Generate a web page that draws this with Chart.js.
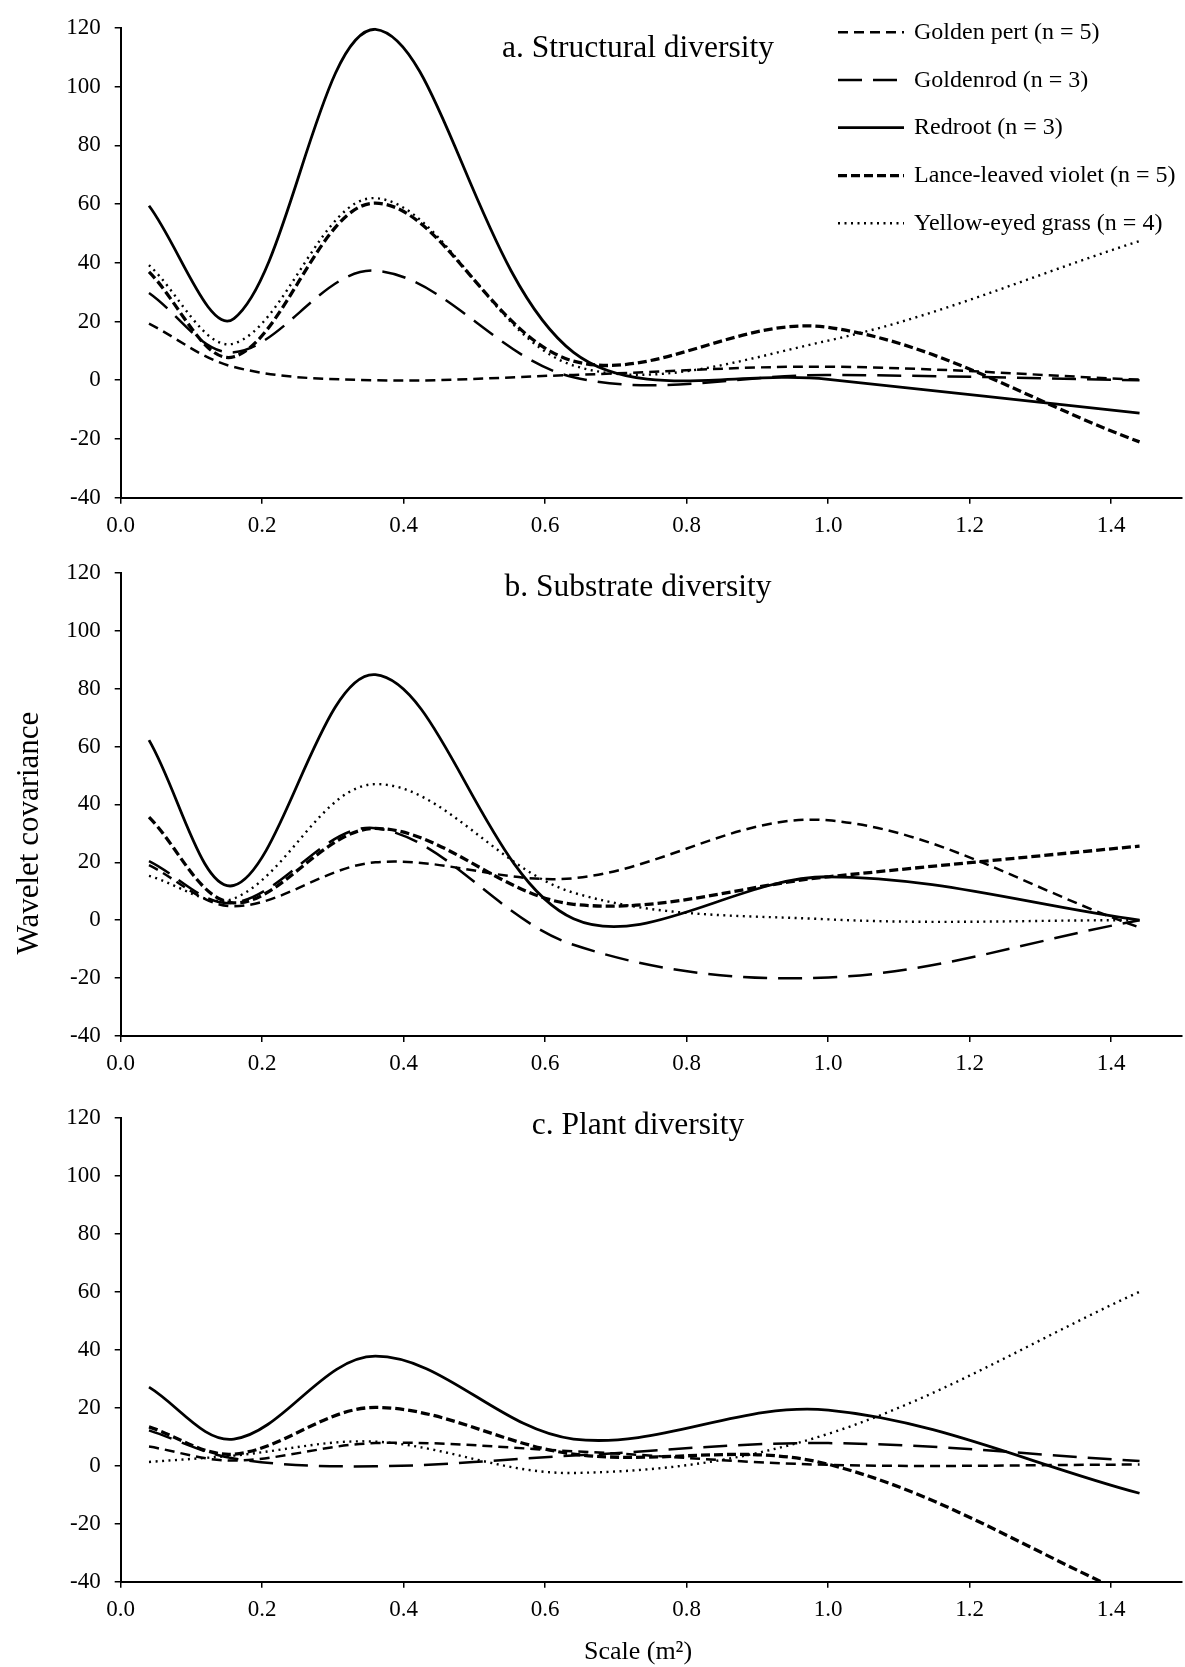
<!DOCTYPE html>
<html>
<head>
<meta charset="utf-8">
<title>Wavelet covariance</title>
<script src="https://cdn.jsdelivr.net/npm/chart.js@4.4.0/dist/chart.umd.min.js"></script>
<style>
  body { margin: 0; background: #fff; }
  .panel { position: absolute; left: 0; width: 1185px; }
</style>
</head>
<body>
<div class="panel" style="top:0;height:545px"><canvas id="panel-a"></canvas></div>
<div class="panel" style="top:545px;height:545px"><canvas id="panel-b"></canvas></div>
<div class="panel" style="top:1090px;height:577px"><canvas id="panel-c"></canvas></div>
<script>
// scale of each wavelet (m2)
const scaleValues = [0.04, 0.16, 0.36, 0.64, 1.0, 1.44];
const speciesLabels = ['Golden pert (n = 5)', 'Goldenrod (n = 3)', 'Redroot (n = 3)',
  'Lance-leaved violet (n = 5)', 'Yellow-eyed grass (n = 4)'];

// a. Structural diversity
const structGoldenPert = [19.3, 4.5, 0, 1.8, 4.6, 0.2];
const structGoldenrod  = [29.7, 9.5, 37.3, 1.0, 1.8, 0.0];
const structRedroot    = [59.4, 21, 119.5, 9.5, 0.3, -11.2];
const structLance      = [36.9, 8, 60.3, 6.5, 18, -21];
const structYellow     = [39.2, 12.5, 62, 5, 13.5, 47.4];

// b. Substrate diversity
const substrGoldenPert = [19, 4.8, 20, 14.5, 34.5, -2.5];
const substrGoldenrod  = [20.4, 6, 31.8, -8.5, -19.8, 0];
const substrRedroot    = [62.2, 12, 84.8, 0.5, 15, 0];
const substrLance      = [35.6, 6, 31.7, 5.5, 15, 25.6];
const substrYellow     = [15.3, 7.5, 47, 9.5, 0.3, 0];

// c. Plant diversity
const plantGoldenPert = [6.6, 1.8, 7.8, 5, 0.3, 0.4];
const plantGoldenrod  = [12.2, 2.5, -0.2, 3.5, 7.8, 1.6];
const plantRedroot    = [27.1, 9.2, 37.8, 9.2, 19.2, -9.5];
const plantLance      = [13.4, 4, 20.1, 4, 0.5, -46];
const plantYellow     = [1.3, 3.5, 8.3, -2.5, 11, 60];

// line looks, same order as speciesLabels
const lineDashes = [[10, 6], [24, 11], [], [9, 4], [2, 4.5]];
const lineWidths = [2.5, 2.5, 2.8, 3.3, 2.4];

const serif = "'Liberation Serif', 'Times New Roman', serif";
Chart.defaults.font.family = serif;
Chart.defaults.color = '#000';

const figText = {
  id: 'figText',
  afterDraw(chart, args, opts) {
    const ctx = chart.ctx;
    ctx.save();
    ctx.fillStyle = '#000';
    ctx.textBaseline = 'alphabetic';
    if (opts.title) {
      ctx.font = '31.5px ' + serif;
      ctx.textAlign = 'center';
      ctx.fillText(opts.title, 638, opts.titleY);
    }
    if (opts.legend) {
      const rows = [32.3, 80, 127.7, 175.7, 223.3];
      chart.data.datasets.forEach((ds, i) => {
        ctx.save();
        ctx.strokeStyle = '#000';
        ctx.lineWidth = ds.borderWidth;
        ctx.setLineDash(ds.borderDash);
        ctx.beginPath();
        ctx.moveTo(838, rows[i]);
        ctx.lineTo(904, rows[i]);
        ctx.stroke();
        ctx.restore();
        ctx.font = '24px ' + serif;
        ctx.textAlign = 'left';
        ctx.fillText(ds.label, 914, rows[i] + 6.5);
      });
    }
    if (opts.yTitle) {
      ctx.save();
      ctx.translate(38, 288);
      ctx.rotate(-Math.PI / 2);
      ctx.font = '31px ' + serif;
      ctx.textAlign = 'center';
      ctx.fillText(opts.yTitle, 0, 0);
      ctx.restore();
    }
    if (opts.xTitle) {
      ctx.font = '26px ' + serif;
      ctx.textAlign = 'center';
      ctx.fillText(opts.xTitle, 638, 569);
    }
    ctx.restore();
  }
};
Chart.register(figText);

function makePanel(id, series, padTop, xAxisHeight, text) {
  const datasets = series.map((vals, i) => ({
    label: speciesLabels[i],
    data: scaleValues.map((x, j) => ({ x: x, y: vals[j] })),
    borderColor: '#000',
    borderWidth: lineWidths[i],
    borderDash: lineDashes[i],
    pointRadius: 0,
    tension: 0.35,
    fill: false
  }));
  return new Chart(document.getElementById(id), {
    type: 'line',
    data: { datasets: datasets },
    options: {
      responsive: true,
      maintainAspectRatio: false,
      animation: false,
      layout: { padding: { top: padTop, left: 0, right: 3, bottom: 0 } },
      plugins: { legend: { display: false }, tooltip: { enabled: false }, figText: text },
      scales: {
        x: {
          type: 'linear',
          min: 0,
          max: 1.5,
          afterFit: s => { s.height = xAxisHeight; },
          afterBuildTicks: s => { s.ticks = s.ticks.filter(t => t.value <= 1.41); },
          ticks: { stepSize: 0.2, includeBounds: false, padding: 8, maxRotation: 0,
            font: { size: 23 }, callback: v => v.toFixed(1) },
          grid: { drawOnChartArea: false, tickLength: 6, color: '#000', lineWidth: 1.5 },
          border: { color: '#000', width: 2 }
        },
        y: {
          min: -40,
          max: 120,
          afterFit: s => { s.width = 120.7; },
          ticks: { stepSize: 20, padding: 14, font: { size: 23 } },
          grid: { drawOnChartArea: false, tickLength: 6, color: '#000', lineWidth: 1.5 },
          border: { color: '#000', width: 2 }
        }
      }
    }
  });
}

makePanel('panel-a', [structGoldenPert, structGoldenrod, structRedroot, structLance, structYellow],
  22.7, 47.3, { title: 'a. Structural diversity', titleY: 57.4, legend: true });
makePanel('panel-b', [substrGoldenPert, substrGoldenrod, substrRedroot, substrLance, substrYellow],
  22.7, 54, { title: 'b. Substrate diversity', titleY: 51, yTitle: 'Wavelet covariance' });
makePanel('panel-c', [plantGoldenPert, plantGoldenrod, plantRedroot, plantLance, plantYellow],
  17.3, 85.3, { title: 'c. Plant diversity', titleY: 44, xTitle: 'Scale (m²)' });
</script>
</body>
</html>
